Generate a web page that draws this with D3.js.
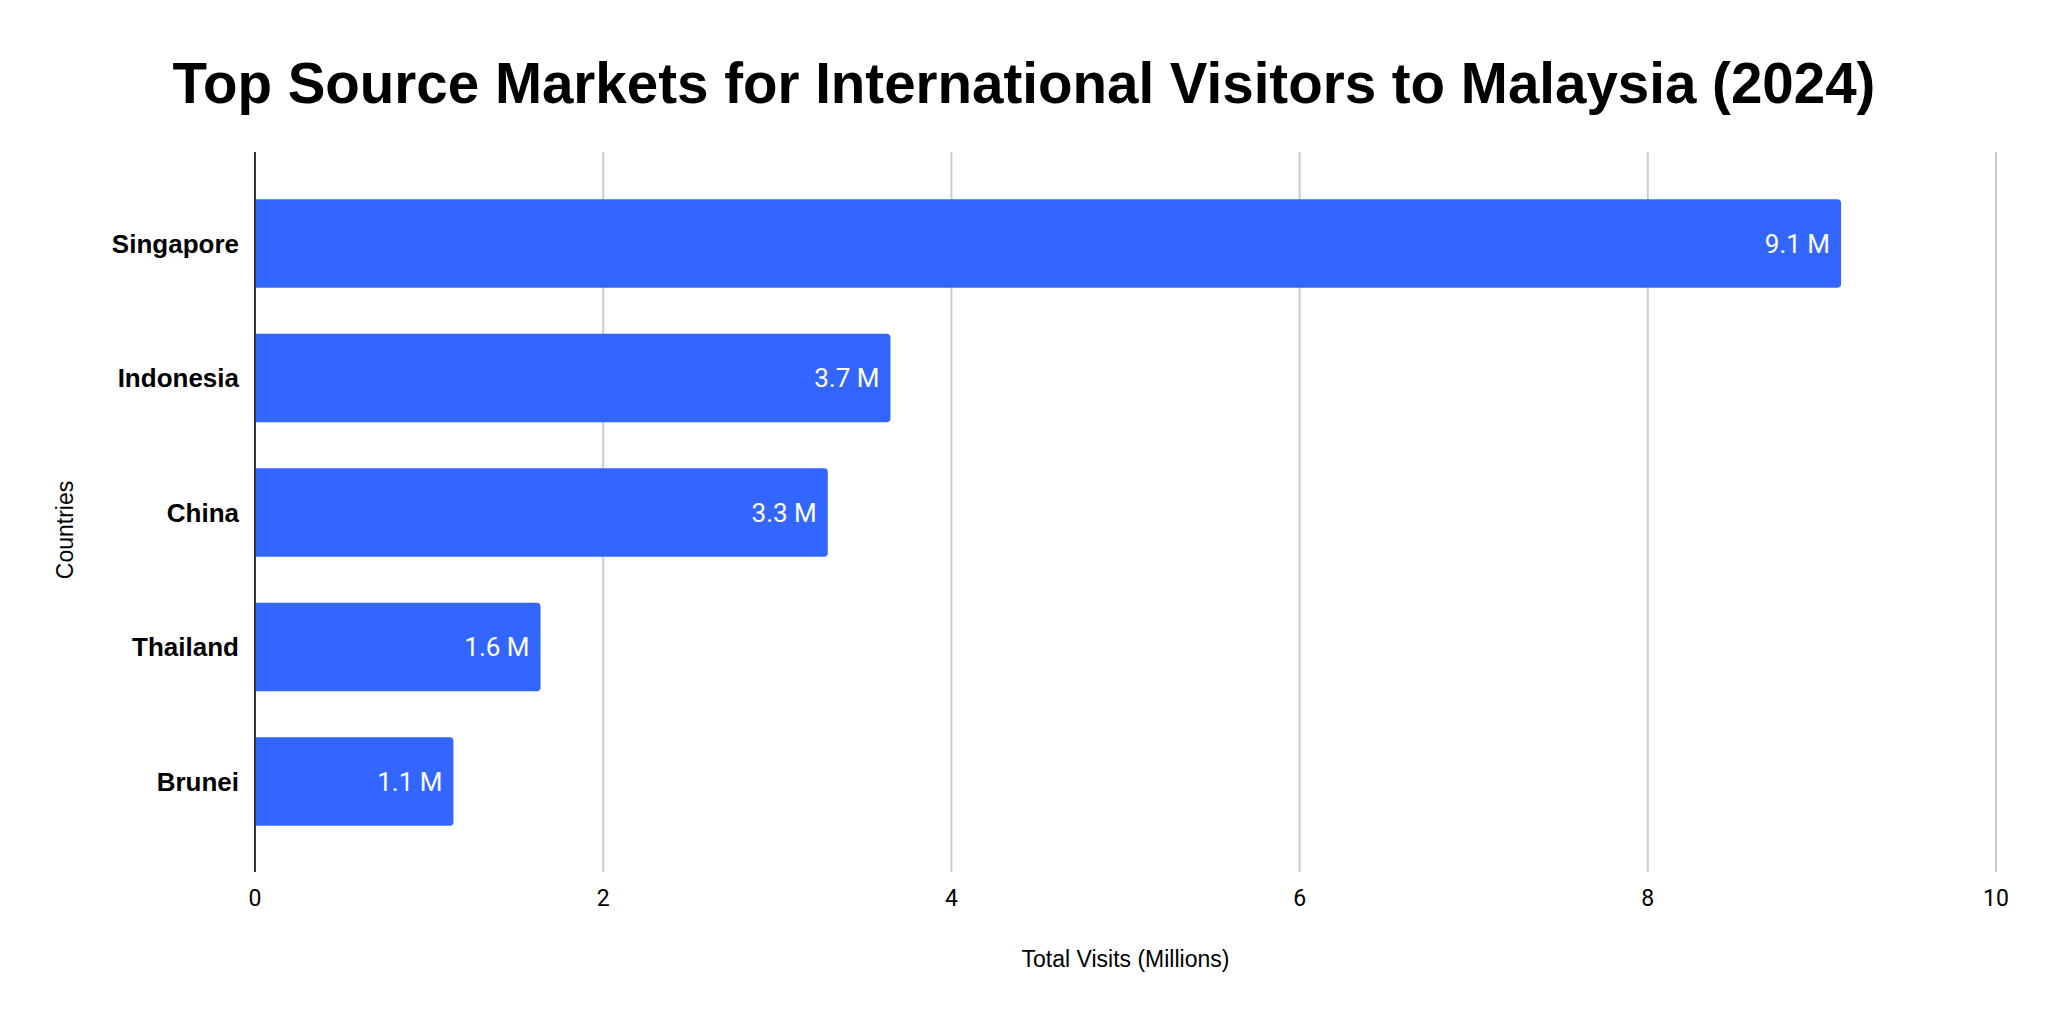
<!DOCTYPE html>
<html>
<head>
<meta charset="utf-8">
<script src="https://cdn.jsdelivr.net/npm/d3@7"></script>
<style>
  html, body { margin: 0; padding: 0; background: #fff; }
  svg { display: block; }
</style>
</head>
<body>
<svg id="chart" width="2048" height="1022"></svg>
<script>
const countries = ["Singapore", "Indonesia", "China", "Thailand", "Brunei"];
const visits = [9.11, 3.65, 3.29, 1.64, 1.14];
const valueLabels = ["9.1 M", "3.7 M", "3.3 M", "1.6 M", "1.1 M"];
const xTicks = [0, 2, 4, 6, 8, 10];
const titleText = "Top Source Markets for International Visitors to Malaysia (2024)";
const xTitle = "Total Visits (Millions)";
const yTitle = "Countries";

const W = 2048, H = 1022;
const plot = { left: 255, right: 1996, top: 152, bottom: 872 };
const barColor = "#3366ff";

const svg = d3.select("#chart");
svg.append("rect").attr("width", W).attr("height", H).attr("fill", "#fff");

const x = d3.scaleLinear().domain([0, 10]).range([plot.left, plot.right]);
const y = d3.scaleBand().domain(countries).range([176.25, 848.75])
  .paddingInner(0.343).paddingOuter(0.1715);

// title
svg.append("text")
  .attr("x", W / 2).attr("y", 103)
  .attr("text-anchor", "middle")
  .attr("font-family", "'Liberation Sans', Arial, sans-serif")
  .attr("font-weight", "bold")
  .attr("font-size", 56.5)
  .attr("fill", "#000")
  .text(titleText);

// gridlines
svg.append("g").selectAll("line").data(xTicks.filter(d => d !== 0)).join("line")
  .attr("x1", d => x(d)).attr("x2", d => x(d))
  .attr("y1", plot.top).attr("y2", plot.bottom)
  .attr("stroke", "#cccccc").attr("stroke-width", 2);

// bars (right corners rounded)
const r = 4;
svg.append("g").selectAll("path").data(countries).join("path")
  .attr("d", (c, i) => {
    const x0 = x(0), x1 = x(visits[i]);
    const y0 = y(c), h = y.bandwidth();
    return `M${x0},${y0} H${x1 - r} Q${x1},${y0} ${x1},${y0 + r} V${y0 + h - r} Q${x1},${y0 + h} ${x1 - r},${y0 + h} H${x0} Z`;
  })
  .attr("fill", barColor);

// zero axis line
svg.append("line")
  .attr("x1", x(0)).attr("x2", x(0))
  .attr("y1", plot.top).attr("y2", plot.bottom)
  .attr("stroke", "#333333").attr("stroke-width", 2);

// value labels
svg.append("g").selectAll("text").data(countries).join("text")
  .attr("x", (c, i) => x(visits[i]) - 11)
  .attr("y", c => y(c) + y.bandwidth() / 2)
  .attr("dy", "0.35em")
  .attr("text-anchor", "end")
  .attr("font-family", "Roboto, sans-serif")
  .attr("font-size", 26)
  .attr("fill", "#fff")
  .text((c, i) => valueLabels[i]);

// category labels
svg.append("g").selectAll("text").data(countries).join("text")
  .attr("x", plot.left - 16)
  .attr("y", c => y(c) + y.bandwidth() / 2)
  .attr("dy", "0.35em")
  .attr("text-anchor", "end")
  .attr("font-family", "'Liberation Sans', Arial, sans-serif")
  .attr("font-weight", "bold")
  .attr("font-size", 26)
  .attr("fill", "#000")
  .text(c => c);

// x tick labels
svg.append("g").selectAll("text").data(xTicks).join("text")
  .attr("x", d => x(d))
  .attr("y", 898)
  .attr("dy", "0.35em")
  .attr("text-anchor", "middle")
  .attr("font-family", "Roboto, sans-serif")
  .attr("font-size", 23)
  .attr("fill", "#000")
  .text(d => d);

// axis titles
svg.append("text")
  .attr("x", (plot.left + plot.right) / 2).attr("y", 959)
  .attr("dy", "0.35em")
  .attr("text-anchor", "middle")
  .attr("font-family", "'Liberation Sans', Arial, sans-serif")
  .attr("font-size", 23)
  .attr("fill", "#000")
  .text(xTitle);

svg.append("text")
  .attr("transform", "translate(65,530) rotate(-90)")
  .attr("dy", "0.35em")
  .attr("text-anchor", "middle")
  .attr("font-family", "'Liberation Sans', Arial, sans-serif")
  .attr("font-size", 23)
  .attr("fill", "#000")
  .text(yTitle);
</script>
</body>
</html>
